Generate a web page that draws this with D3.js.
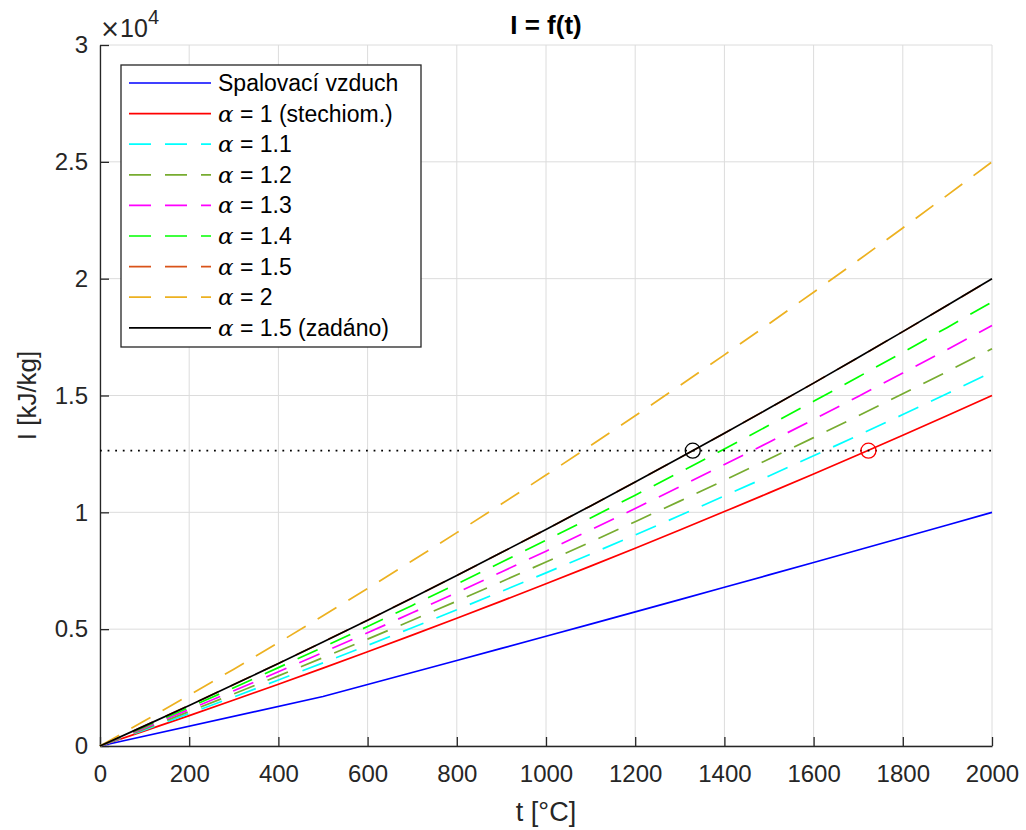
<!DOCTYPE html>
<html>
<head>
<meta charset="utf-8">
<script src="https://cdn.jsdelivr.net/npm/d3@7"></script>
<style>
  body { margin: 0; background: #fff; }
  svg { display: block; }
  text { font-family: "Liberation Sans", Arial, sans-serif; fill: #262626; }
  .alpha { font-family: "DejaVu Serif", "Liberation Serif", serif; font-style: italic; }
</style>
</head>
<body>
<svg id="chart" width="1026" height="830"></svg>
<script>
// temperature grids [°C]
let t_values = [0, 100, 200, 300, 400, 500, 600, 700, 800, 900, 1000, 1100, 1200, 1300, 1400, 1500, 1600, 1700, 1800, 1900, 2000];
let air_t_values = [0, 500, 600, 700, 800, 900, 1000, 1100, 1200, 1300, 1400, 1500, 1600, 1700, 1800, 1900, 2000];

// enthalpy I [kJ/kg]
let air_values = [0, 2120, 2631, 3145, 3660, 4177, 4697, 5218, 5741, 6266, 6794, 7323, 7854, 8388, 8923, 9460, 10000];
let alpha_1_values = [0, 645, 1300, 1967, 2645, 3334, 4033, 4744, 5467, 6200, 6944, 7699, 8466, 9243, 10032, 10832, 11642, 12464, 13297, 14141, 15000];
let alpha_11_values = [0, 688, 1387, 2099, 2823, 3558, 4304, 5062, 5833, 6615, 7409, 8214, 9032, 9861, 10703, 11556, 12420, 13296, 14184, 15084, 16000];
let alpha_12_values = [0, 732, 1475, 2231, 3000, 3782, 4574, 5380, 6200, 7031, 7874, 8730, 9599, 10479, 11373, 12280, 13197, 14128, 15072, 16028, 17000];
let alpha_13_values = [0, 775, 1562, 2364, 3178, 4005, 4845, 5699, 6566, 7446, 8339, 9245, 10165, 11098, 12044, 13003, 13975, 14961, 15959, 16971, 18000];
let alpha_14_values = [0, 819, 1650, 2496, 3355, 4229, 5115, 6017, 6933, 7862, 8804, 9761, 10732, 11716, 12714, 13727, 14752, 15793, 16847, 17915, 19000];
let alpha_15_values = [0, 862, 1737, 2628, 3533, 4453, 5386, 6335, 7299, 8277, 9269, 10276, 11298, 12334, 13385, 14451, 15530, 16625, 17734, 18858, 20000];
let alpha_2_values = [0, 1079, 2174, 3289, 4421, 5572, 6739, 7926, 9131, 10354, 11594, 12853, 14130, 15425, 16738, 18070, 19418, 20786, 22171, 23575, 25000];
let given_values = [0, 862, 1737, 2628, 3533, 4453, 5386, 6335, 7299, 8277, 9269, 10276, 11298, 12334, 13385, 14451, 15530, 16625, 17734, 18858, 20000];

// marked points on the level of the given enthalpy
let level_I = 12640;
let marker_t = [1329, 1723];

let x_ticks = [0, 200, 400, 600, 800, 1000, 1200, 1400, 1600, 1800, 2000];
let y_ticks = [0, 5000, 10000, 15000, 20000, 25000, 30000];
let y_tick_labels = ["0", "0.5", "1", "1.5", "2", "2.5", "3"];

let series = [
  {label: "Spalovací vzduch", t: air_t_values, values: air_values, color: "#0000ff", dash: null},
  {label: "= 1 (stechiom.)", alpha: true, t: t_values, values: alpha_1_values, color: "#ff0000", dash: null},
  {label: "= 1.1", alpha: true, t: t_values, values: alpha_11_values, color: "#00ffff", dash: "22,14"},
  {label: "= 1.2", alpha: true, t: t_values, values: alpha_12_values, color: "#77ac30", dash: "22,14"},
  {label: "= 1.3", alpha: true, t: t_values, values: alpha_13_values, color: "#ff00ff", dash: "22,14"},
  {label: "= 1.4", alpha: true, t: t_values, values: alpha_14_values, color: "#00ff00", dash: "22,14"},
  {label: "= 1.5", alpha: true, t: t_values, values: alpha_15_values, color: "#d95319", dash: "22,14"},
  {label: "= 2", alpha: true, t: t_values, values: alpha_2_values, color: "#edb120", dash: "22,14"},
  {label: "= 1.5 (zadáno)", alpha: true, t: t_values, values: given_values, color: "#000000", dash: null},
];

let svg = d3.select("#chart");
let plot_left = 100, plot_right = 992, plot_top = 45, plot_bottom = 746;

let x = d3.scaleLinear().domain([0, 2000]).range([plot_left, plot_right]);
let y = d3.scaleLinear().domain([0, 30000]).range([plot_bottom, plot_top]);

// grid
let grid = svg.append("g").attr("stroke", "#dcdcdc").attr("stroke-width", 1);
x_ticks.forEach((t) => {
  grid.append("line").attr("x1", x(t)).attr("x2", x(t)).attr("y1", plot_top).attr("y2", plot_bottom);
});
y_ticks.forEach((v) => {
  grid.append("line").attr("x1", plot_left).attr("x2", plot_right).attr("y1", y(v)).attr("y2", y(v));
});

// axes
let x_axis = d3.axisBottom(x).tickValues(x_ticks).tickSizeInner(-9).tickSizeOuter(0).tickPadding(19)
  .tickFormat(d3.format("d"));
let y_axis = d3.axisLeft(y).tickValues(y_ticks).tickSizeInner(-9).tickSizeOuter(0).tickPadding(12)
  .tickFormat((d, i) => y_tick_labels[i]);

let gx = svg.append("g").attr("transform", `translate(0,${plot_bottom})`).call(x_axis);
let gy = svg.append("g").attr("transform", `translate(${plot_left},0)`).call(y_axis);
[gx, gy].forEach((g) => {
  g.select(".domain").attr("stroke", "#262626").attr("stroke-width", 1.3);
  g.selectAll(".tick line").attr("stroke", "#262626").attr("stroke-width", 1.3);
  g.selectAll(".tick text").attr("font-family", "Liberation Sans, Arial, sans-serif")
    .attr("font-size", 24).attr("fill", "#262626");
});

// lines
let plot = svg.append("g");
series.forEach((s) => {
  let line = d3.line()
    .x((d, i) => x(s.t[i]))
    .y((d) => y(d));
  plot.append("path")
    .datum(s.values)
    .attr("d", line)
    .attr("fill", "none")
    .attr("stroke", s.color)
    .attr("stroke-width", 1.7)
    .attr("stroke-dasharray", s.dash);
});

// given enthalpy level and its crossings
plot.append("line")
  .attr("x1", x(0)).attr("x2", x(2000))
  .attr("y1", y(level_I)).attr("y2", y(level_I))
  .attr("stroke", "#000").attr("stroke-width", 1.8)
  .attr("stroke-dasharray", "1.8,5.8");

let marker_colors = ["#000000", "#ff0000"];
marker_t.forEach((t, i) => {
  plot.append("circle")
    .attr("cx", x(t)).attr("cy", y(level_I)).attr("r", 7.5)
    .attr("fill", "none").attr("stroke", marker_colors[i]).attr("stroke-width", 1.3);
});

// legend
let legend = svg.append("g");
legend.append("rect")
  .attr("x", 121).attr("y", 65).attr("width", 300).attr("height", 282)
  .attr("fill", "#fff").attr("stroke", "#262626").attr("stroke-width", 1.3);

series.forEach((s, i) => {
  let row_y = 83 + i * 30.6;
  legend.append("line")
    .attr("x1", 129).attr("x2", 211).attr("y1", row_y).attr("y2", row_y)
    .attr("stroke", s.color).attr("stroke-width", 1.7)
    .attr("stroke-dasharray", s.dash);
  let label = legend.append("text")
    .attr("x", 218).attr("y", row_y + 8)
    .attr("font-size", 23).style("fill", "#000");
  if (s.alpha) {
    label.append("tspan").attr("class", "alpha").attr("font-size", 23).text("α");
    label.append("tspan").text(" " + s.label);
  } else {
    label.text(s.label);
  }
});

// titles
svg.append("text")
  .attr("x", (plot_left + plot_right) / 2).attr("y", 34)
  .attr("text-anchor", "middle").attr("font-size", 26).attr("font-weight", "bold")
  .style("fill", "#000")
  .text("I = f(t)");

let exponent = svg.append("text").attr("x", 100).attr("y", 37).attr("font-size", 25);
exponent.append("tspan").attr("font-family", "DejaVu Sans, sans-serif").attr("font-size", 24).text("×");
exponent.append("tspan").text("10");
exponent.append("tspan").attr("dy", -13).attr("font-size", 20).text("4");

svg.append("text")
  .attr("x", (plot_left + plot_right) / 2).attr("y", 821)
  .attr("text-anchor", "middle").attr("font-size", 27)
  .text("t [°C]");

svg.append("text")
  .attr("transform", `translate(36,${(plot_top + plot_bottom) / 2}) rotate(-90)`)
  .attr("text-anchor", "middle").attr("font-size", 26)
  .text("I [kJ/kg]");
</script>
</body>
</html>
